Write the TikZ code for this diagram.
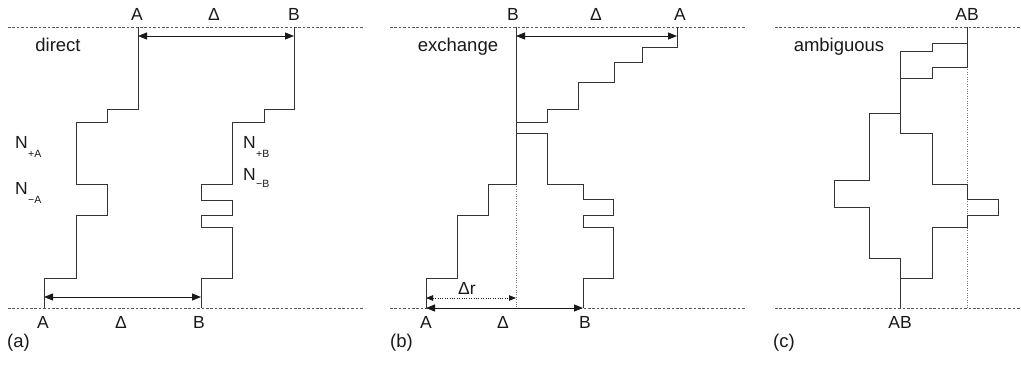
\documentclass[tikz,border=0pt]{standalone}
\usepackage{fontspec}
\setmainfont{Liberation Sans}
\usetikzlibrary{arrows.meta}
\tikzset{
  traj/.style={draw=black!80, line width=0.9pt, line join=miter},
  baseline/.style={draw=black!65, line width=0.8pt, dash pattern=on 2.6pt off 1.8pt},
  guide/.style={draw=black!55, line width=0.7pt, dash pattern=on 1pt off 1.4pt},
  dimarrow/.style={draw=black!90, line width=0.9pt, {Triangle[length=9pt,width=7pt]}-{Triangle[length=9pt,width=7pt]}},
  dotarrow/.style={draw=black!90, line width=0.8pt, dash pattern=on 1pt off 1.4pt, {Triangle[length=7pt,width=5.5pt]}-{Triangle[length=7pt,width=5.5pt]}},
  lab/.style={anchor=base, inner sep=0pt, font=\fontsize{17.5}{19}\selectfont, text=black!90},
  word/.style={anchor=base, inner sep=0pt, font=\fontsize{18.5}{20}\selectfont, text=black!90},
  nlab/.style={anchor=base west, inner sep=0pt, font=\fontsize{17.5}{19}\selectfont, text=black!90},
  sublab/.style={anchor=base west, inner sep=0pt, font=\fontsize{10.5}{12}\selectfont, text=black!90},
}
\begin{document}
\begin{tikzpicture}[x=1pt,y=-1pt]
\useasboundingbox (0,0) rectangle (1021,365);

% baselines
\coordinate (aTl) at (8,27);   \coordinate (aTr) at (363,27);
\coordinate (aBl) at (8,308);  \coordinate (aBr) at (363,308);
\coordinate (bTl) at (390,27); \coordinate (bTr) at (745,27);
\coordinate (bBl) at (390,308);\coordinate (bBr) at (745,308);
\coordinate (cTl) at (775,27); \coordinate (cTr) at (1020,27);
\coordinate (cBl) at (775,308);\coordinate (cBr) at (1020,308);
\draw[baseline] (aTl) -- (aTr);
\draw[baseline] (aBl) -- (aBr);
\draw[baseline] (bTl) -- (bTr);
\draw[baseline] (bBl) -- (bBr);
\draw[baseline] (cTl) -- (cTr);
\draw[baseline] (cBl) -- (cBr);

%%%%%%%% panel (a)
\draw[traj] (138,27) -- (138,109) -- (107,109) -- (107,122) -- (76,122) -- (76,184)
  -- (107,184) -- (107,215) -- (76,215) -- (76,278) -- (44,278) -- (44,308);
\draw[traj] (294,27) -- (294,109) -- (264,109) -- (264,122) -- (232,122) -- (232,184)
  -- (201,184) -- (201,200) -- (232,200) -- (232,215) -- (201,215) -- (201,227)
  -- (232,227) -- (232,278) -- (201,278) -- (201,308);
\coordinate (aArT) at (138,36); \coordinate (aBrT) at (294,36);
\coordinate (aArB) at (44,297); \coordinate (aBrB) at (201,297);
\draw[dimarrow] (aArT) -- (aBrT);
\draw[dimarrow] (aArB) -- (aBrB);
\node[lab] (aA1) at (137,20) {A};
\node[lab] (aD1) at (214,20) {Δ};
\node[lab] (aB1) at (294,20) {B};
\node[lab] (aA2) at (43,328) {A};
\node[lab] (aD2) at (121,328) {Δ};
\node[lab] (aB2) at (199,328) {B};
\node[word] (adir) at (58,51) {direct};
\node[nlab] (aN1) at (15,148) {N};
\node[sublab] (aN1s) at (aN1.base east) [yshift=-9pt] {+A};
\node[nlab] (aN2) at (15,194) {N};
\node[sublab] (aN2s) at (aN2.base east) [yshift=-9pt] {\textminus A};
\node[nlab] (aN3) at (243,148) {N};
\node[sublab] (aN3s) at (aN3.base east) [yshift=-9pt] {+B};
\node[nlab] (aN4) at (243,180) {N};
\node[sublab] (aN4s) at (aN4.base east) [yshift=-7pt] {\textminus B};
\node[word, anchor=base west] (acap) at (7,347) {(a)};

%%%%%%%% panel (b)
\draw[guide] (516,184) -- (516,308);
\draw[traj] (677,27) -- (677,47) -- (642,47) -- (642,62) -- (614,62) -- (614,82)
  -- (578,82) -- (578,109) -- (547,109) -- (547,122) -- (516,122) -- (516,184)
  -- (488,184) -- (488,215) -- (457,215) -- (457,278) -- (426,278) -- (426,308);
\draw[traj] (516,27) -- (516,133) -- (547,133) -- (547,184) -- (583,184) -- (583,199)
  -- (613,199) -- (613,215) -- (583,215) -- (583,227) -- (613,227) -- (613,278)
  -- (583,278) -- (583,308);
\coordinate (bBrT) at (516,36); \coordinate (bArT) at (677,36);
\coordinate (bArB) at (426,308); \coordinate (bBrB) at (583,308);
\coordinate (bArR) at (426,298); \coordinate (bMid) at (516,298);
\draw[dimarrow] (bBrT) -- (bArT);
\draw[dimarrow] (bArB) -- (bBrB);
\draw[dotarrow] (bArR) -- (bMid);
\node[lab] (bB1) at (513,20) {B};
\node[lab] (bD1) at (596,20) {Δ};
\node[lab] (bA1) at (680,20) {A};
\node[lab] (bA2) at (426,328) {A};
\node[lab] (bD2) at (503,328) {Δ};
\node[lab] (bB2) at (585,328) {B};
\node[lab] (bDr) at (467,294) {Δr};
\node[word] (bexc) at (458,51) {exchange};
\node[word, anchor=base west] (bcap) at (390,347) {(b)};

%%%%%%%% panel (c)
\draw[guide] (967,67) -- (967,308);
\draw[traj] (967,27) -- (967,43) -- (932,43) -- (932,51) -- (900,51) -- (900,113)
  -- (869,113) -- (869,180) -- (834,180) -- (834,207) -- (869,207) -- (869,258)
  -- (900,258) -- (900,308);
\draw[traj] (967,27) -- (967,67) -- (932,67) -- (932,78) -- (900,78) -- (900,133)
  -- (932,133) -- (932,184) -- (967,184) -- (967,199) -- (998,199) -- (998,215)
  -- (967,215) -- (967,227) -- (932,227) -- (932,278) -- (900,278) -- (900,308);
\node[lab] (cAB1) at (967,20) {AB};
\node[lab] (cAB2) at (900,328) {AB};
\node[word] (camb) at (839,51) {ambiguous};
\node[word, anchor=base west] (ccap) at (773,347) {(c)};
\end{tikzpicture}
\end{document}
